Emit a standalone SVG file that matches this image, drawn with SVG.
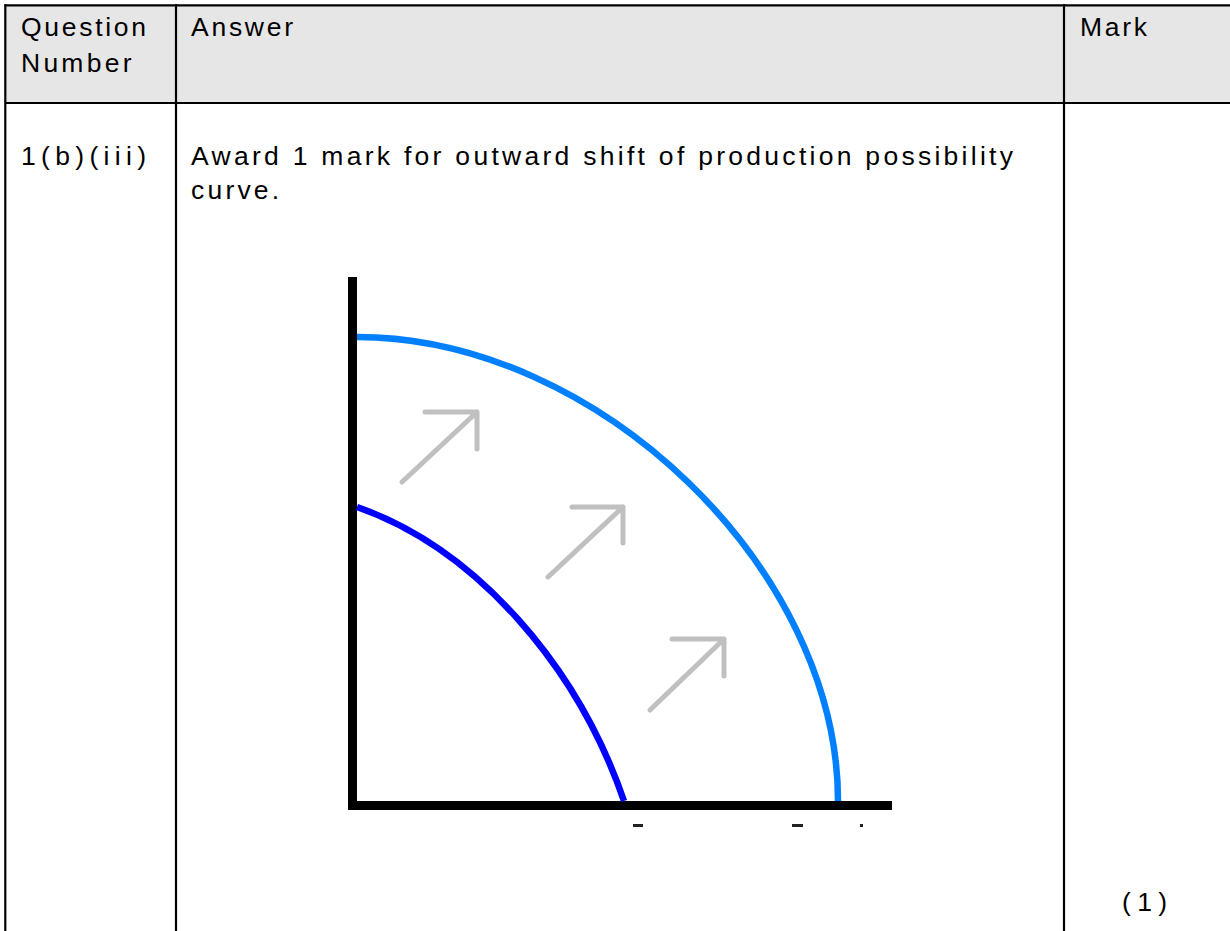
<svg xmlns="http://www.w3.org/2000/svg" width="1230" height="931" viewBox="0 0 1230 931">
  <style>
    .t { font-family: "Liberation Sans", Arial, sans-serif; font-size: 26.5px; fill: #000; }
    .grid { stroke: #000; stroke-width: 2.2; fill: none; }
    .axis { stroke: #000; stroke-width: 9; fill: none; }
    .arrow { stroke: #c0c0c0; stroke-width: 5; stroke-linecap: round; stroke-linejoin: round; fill: none; }
  </style>
  <rect x="0" y="0" width="1230" height="931" fill="#ffffff"/>

  <g id="table">
    <rect x="5" y="5" width="1225" height="98" fill="#e6e6e6"/>
    <line class="grid" x1="5" y1="5.3" x2="1230" y2="5.3"/>
    <line class="grid" x1="5" y1="103" x2="1230" y2="103"/>
    <line class="grid" x1="5.3" y1="4" x2="5.3" y2="931"/>
    <line class="grid" x1="176" y1="4" x2="176" y2="931"/>
    <line class="grid" x1="1064" y1="4" x2="1064" y2="931"/>
  </g>

  <g id="header-question">
    <text class="t" x="21" y="35.5" textLength="125" lengthAdjust="spacing">Question</text>
    <text class="t" x="21" y="71.5" textLength="110.5" lengthAdjust="spacing">Number</text>
  </g>
  <g id="header-answer">
    <text class="t" x="191" y="35.5" textLength="102" lengthAdjust="spacing">Answer</text>
  </g>
  <g id="header-mark">
    <text class="t" x="1080" y="35.5" textLength="67" lengthAdjust="spacing">Mark</text>
  </g>

  <g id="question-number">
    <text class="t" x="21" y="165" textLength="125" lengthAdjust="spacing">1(b)(iii)</text>
  </g>
  <g id="answer-text">
    <text class="t" x="191" y="165" textLength="822" lengthAdjust="spacing">Award 1 mark for outward shift of production possibility</text>
    <text class="t" x="191" y="199" letter-spacing="3.2">curve.</text>
  </g>
  <g id="mark-value">
    <text class="t" x="1122" y="911" textLength="45" lengthAdjust="spacing">(1)</text>
  </g>

  <g id="graph">
    <g id="axes">
      <line class="axis" x1="352.5" y1="277" x2="352.5" y2="810"/>
      <line class="axis" x1="348" y1="805.5" x2="892" y2="805.5"/>
    </g>
    <g id="ppc-new">
      <path d="M357,337 C598,337 838,569 838,801" stroke="#0080ff" stroke-width="6.5" fill="none"/>
    </g>
    <g id="ppc-old">
      <path d="M357,507 C477,549 578,667 624,801" stroke="#0000ff" stroke-width="6.5" fill="none"/>
    </g>
    <g id="connectors">
      <path class="arrow" d="M402,482 L477,412 M425,412 L477,412 L477,449"/>
      <path class="arrow" d="M548,577 L623,507 M572,507 L623,507 L623,543"/>
      <path class="arrow" d="M650,710 L724,639 M672,639 L724,639 L724,676"/>
    </g>
    <g id="clipped-label-marks" fill="#222">
      <rect x="633" y="824" width="10" height="3"/>
      <rect x="792" y="824" width="11" height="3"/>
      <rect x="860" y="824" width="3" height="3"/>
    </g>
  </g>
</svg>
